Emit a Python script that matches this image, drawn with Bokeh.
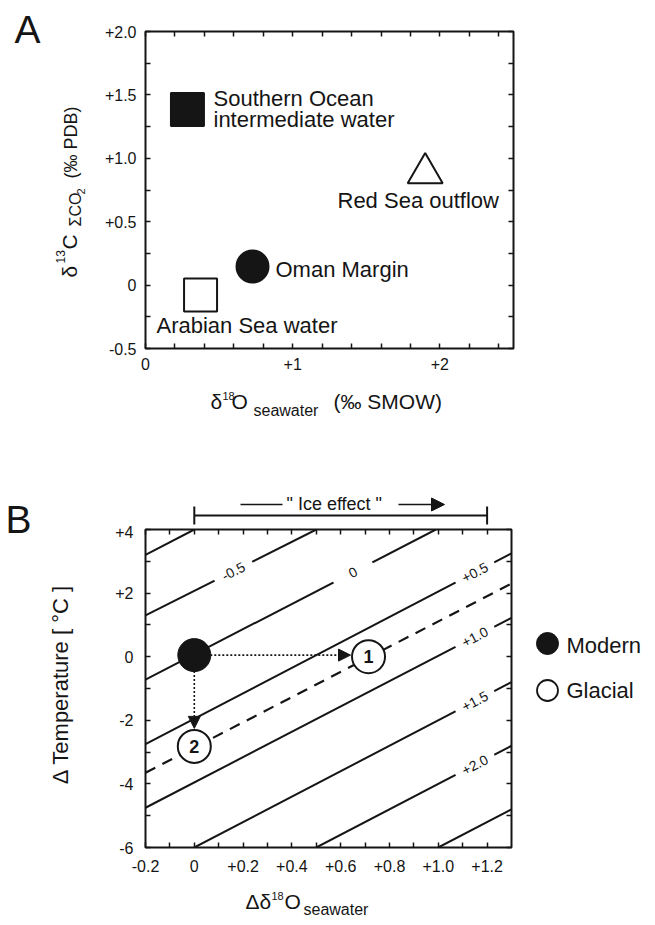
from bokeh.plotting import figure
from bokeh.models import (Label, Arrow, NormalHead, TeeHead, FixedTicker, LinearAxis, Range1d)
from bokeh.core.properties import value
from bokeh.layouts import column, row
from bokeh.embed import file_html
from bokeh.resources import INLINE

FONT = "Liberation Sans"
INK = "#151515"

# ---------------- Panel A data ----------------
a_water = ["Southern Ocean\nintermediate water", "Red Sea outflow", "Oman Margin", "Arabian Sea water"]
a_d18o_sw = [0.285, 1.90, 0.727, 0.374]
a_d13c = [1.385, 0.883, 0.147, -0.078]

a_xticks = [0, 1, 2]
a_xtick_labels = ["0", "+1", "+2"]
a_xticks_minor = [0.2, 0.4, 0.6, 0.8, 1.2, 1.4, 1.6, 1.8, 2.2, 2.4]
a_yticks = [-0.5, 0, 0.5, 1.0, 1.5, 2.0]
a_ytick_labels = ["-0.5", "0", "+0.5", "+1.0", "+1.5", "+2.0"]
a_yticks_minor = [-0.25, 0.25, 0.75, 1.25, 1.75]

# ---------------- Panel B data ----------------
b_modern_x = [0.0]
b_modern_dt = [0.05]
b_glacial_x = [0.714, 0.0]
b_glacial_dt = [0.0, -2.82]
b_glacial_id = ["1", "2"]
b_ice_effect = [0.0, 1.2]
b_legend = ["Modern", "Glacial"]

b_iso_value = ["-1.0", "-0.5", "0", "+0.5", "+1.0", "+1.5", "+2.0", "+2.5"]
b_iso_x0 = [-0.2, -0.2, -0.2, -0.2, -0.2, 0.0, 0.5, 1.0]
b_iso_y0 = [3.2, 1.3, -0.72, -2.75, -4.75, -6.0, -6.0, -6.0]
b_iso_x1 = [0.0, 0.5, 0.99, 1.3, 1.3, 1.3, 1.3, 1.3]
b_iso_y1 = [4.0, 4.0, 4.0, 3.25, 1.22, -0.8, -2.8, -4.8]
b_glacial_iso_x = [-0.2, 1.3]
b_glacial_iso_dt = [-3.65, 2.3]
b_labeled_iso = ["-0.5", "0", "+0.5", "+1.0", "+1.5", "+2.0"]

b_xticks = [-0.2, 0, 0.2, 0.4, 0.6, 0.8, 1.0, 1.2]
b_xtick_labels = ["-0.2", "0", "+0.2", "+0.4", "+0.6", "+0.8", "+1.0", "+1.2"]
b_xticks_minor = [-0.1, 0.1, 0.3, 0.5, 0.7, 0.9, 1.1]
b_yticks = [-6, -4, -2, 0, 2, 4]
b_ytick_labels = ["-6", "-4", "-2", "0", "+2", "+4"]
b_yticks_minor = [-5, -3, -1, 1, 3]

# ---------------- layout geometry (page pixels) ----------------
LEFT_W = 100
W = 650
A_LEFT, A_TOP, A_W, A_H = 145, 31, 368, 317
A_X0, A_X1, A_Y0, A_Y1 = 0.0, 2.5, -0.5, 2.0
A_FIG_H = 384
A_BOT_H = 60
B_ORIGIN = A_FIG_H + A_BOT_H          # 444
B_TOP_H = 81
B_LEFT, B_TOP, B_W, B_H = 145, 529, 366, 318
B_X0, B_X1, B_Y0, B_Y1 = -0.2, 1.3, -6.0, 4.0
B_FIG_W = 415
B_FIG_H = 355
B_BOT_H = 43
MID = 0.36   # distance (in em) from a text's baseline to its visual middle


def A_x(px):
    return A_X0 + (px - A_LEFT) / A_W * (A_X1 - A_X0)


def A_y(py):
    return A_Y1 - (py - A_TOP) / A_H * (A_Y1 - A_Y0)


def B_px(x):
    return B_LEFT + (x - B_X0) / (B_X1 - B_X0) * B_W


def add_text(p, x, y, text, size, angle=0, align="left", style="normal", **kw):
    p.add_layout(Label(x=x, y=y, text=text, text_font=FONT, text_font_size=f"{size}px",
                       text_color=INK, text_align=align, text_baseline="middle",
                       angle=angle, angle_units="deg", text_font_style=style, **kw))


def htext(s, px, py_base, text, size, align="left"):
    """horizontal text in a strip, given its baseline in page pixels"""
    add_text(s, px, -(py_base - MID * size), text, size, align=align)


def vtext(s, px_base, py, text, size, align="left"):
    """text rotated to read upwards, given its baseline x in page pixels"""
    add_text(s, px_base - MID * size, -py, text, size, angle=90, align=align)


def strip(x0, y0, w, h, bl=0, br=0, bt=0, bb=0):
    """A plain canvas; its frame (inside the given borders) maps page pixels (y negated)."""
    s = figure(width=w, height=h,
               x_range=Range1d(x0 + bl, x0 + w - br), y_range=Range1d(-(y0 + h - bb), -(y0 + bt)),
               x_axis_location=None, y_axis_location=None, output_backend="svg",
               toolbar_location=None, min_border_left=bl, min_border_right=br,
               min_border_top=bt, min_border_bottom=bb)
    s.outline_line_color = None
    s.xgrid.visible = False
    s.ygrid.visible = False
    return s


def frame_axes(p, xt, xl, xm, yt, yl, ym, standoff):
    p.xgrid.visible = False
    p.ygrid.visible = False
    p.outline_line_color = INK
    p.outline_line_width = 2
    p.xaxis[0].ticker = FixedTicker(ticks=xt, minor_ticks=xm)
    p.xaxis[0].major_label_overrides = {t: l for t, l in zip(xt, xl)}
    p.yaxis[0].ticker = FixedTicker(ticks=yt, minor_ticks=ym)
    p.yaxis[0].major_label_overrides = {t: l for t, l in zip(yt, yl)}
    for ax in (p.xaxis[0], p.yaxis[0]):
        ax.axis_line_color = None
        ax.major_tick_in = 5
        ax.major_tick_out = 0
        ax.minor_tick_in = 5
        ax.minor_tick_out = 0
        ax.major_tick_line_color = INK
        ax.minor_tick_line_color = INK
        ax.major_tick_line_width = 1.5
        ax.minor_tick_line_width = 1.5
        ax.major_label_text_font = FONT
        ax.major_label_text_font_size = "16px"
        ax.major_label_text_color = INK
        ax.major_label_standoff = standoff
    for ticks, place in ((xt + xm, "above"), (yt + ym, "right")):
        ax = LinearAxis(ticker=FixedTicker(ticks=[], minor_ticks=ticks))
        ax.axis_line_color = None
        ax.major_tick_line_color = None
        ax.major_label_standoff = 0
        ax.minor_tick_in = 5
        ax.minor_tick_out = 0
        ax.minor_tick_line_color = INK
        ax.minor_tick_line_width = 1.5
        p.add_layout(ax, place)


# ======================= Panel A =======================
A_BL, A_BR = A_LEFT - LEFT_W, W - A_LEFT - A_W
pA = figure(width=W - LEFT_W, height=A_FIG_H, x_range=Range1d(A_X0, A_X1),
            y_range=Range1d(A_Y0, A_Y1), output_backend="svg", toolbar_location=None,
            min_border_left=A_BL, min_border_right=A_BR,
            min_border_top=A_TOP, min_border_bottom=A_FIG_H - A_TOP - A_H)
frame_axes(pA, a_xticks, a_xtick_labels, a_xticks_minor,
           a_yticks, a_ytick_labels, a_yticks_minor, 9)

a_style = [
    dict(marker="square", size=33, fill_color=INK),
    dict(marker="triangle", size=35, fill_color="white"),
    dict(marker="circle", size=32, fill_color=INK),
    dict(marker="square", size=33, fill_color="white"),
]
a_label_px = [(213, 106), (337, 208), (275, 277), (156, 333)]   # left x, baseline y
for i, name in enumerate(a_water):
    pA.scatter(x=[a_d18o_sw[i]], y=[a_d13c[i]], line_color=INK, line_width=2, **a_style[i])
    lx, ly = a_label_px[i]
    for k, line in enumerate(name.split("\n")):
        add_text(pA, A_x(lx), A_y(ly + 21 * k - MID * 22), line, 22)

# left strip of panel A: panel letter and composed y title
sAL = strip(0, 0, LEFT_W, A_FIG_H + A_BOT_H)
htext(sAL, 14, 43, "A", 39)
vtext(sAL, 77, 277, "δ", 21)
vtext(sAL, 64, 263, "13", 12)
vtext(sAL, 77, 249, "C", 21)
vtext(sAL, 81, 226, "ΣCO", 16)
vtext(sAL, 84, 194, "2", 11)
vtext(sAL, 77, 178, "(‰ PDB)", 18)

# strip below panel A (its frame is aligned with panel A's frame): composed x title
sAB = strip(LEFT_W, A_FIG_H, W - LEFT_W, A_BOT_H, bl=A_BL, br=A_BR)
htext(sAB, 210, 409, "δ", 21)
htext(sAB, 222, 399, "18", 11)
htext(sAB, 231, 409, "O", 21)
htext(sAB, 253, 416, "seawater", 16)
htext(sAB, 333, 409, "(‰ SMOW)", 21)

# ======================= Panel B =======================
B_FIG_TOP = B_ORIGIN + B_TOP_H   # 525
B_BT = B_TOP - B_FIG_TOP
B_BB = B_FIG_H - B_BT - B_H
pB = figure(width=B_FIG_W, height=B_FIG_H, x_range=Range1d(B_X0, B_X1),
            y_range=Range1d(B_Y0, B_Y1), output_backend="svg", toolbar_location=None,
            min_border_left=B_LEFT - LEFT_W, min_border_right=LEFT_W + B_FIG_W - B_LEFT - B_W,
            min_border_top=B_BT, min_border_bottom=B_BB)
frame_axes(pB, b_xticks, b_xtick_labels, b_xticks_minor,
           b_yticks, b_ytick_labels, b_yticks_minor, 12)

pB.segment(x0=b_iso_x0, y0=b_iso_y0, x1=b_iso_x1, y1=b_iso_y1, line_color=INK, line_width=2)
pB.line(x=b_glacial_iso_x, y=b_glacial_iso_dt, line_color=INK, line_width=2.2, line_dash="11 8")

lab_xpos = [0.16, 0.65, 1.15, 1.15, 1.15, 1.15]
lab_pad = [9, 18, 8, 8, 8, 8]
for txt, lx, pad in zip(b_labeled_iso, lab_xpos, lab_pad):
    i = b_iso_value.index(txt)
    t = (lx - b_iso_x0[i]) / (b_iso_x1[i] - b_iso_x0[i])
    ly = b_iso_y0[i] + t * (b_iso_y1[i] - b_iso_y0[i])
    add_text(pB, lx, ly, txt, 14, angle=27.5, align="center",
             background_fill_color="white", padding=pad)

px_x = B_W / (B_X1 - B_X0)
px_y = B_H / (B_Y1 - B_Y0)
pB.add_layout(Arrow(x_start=b_modern_x[0], y_start=b_modern_dt[0],
                    x_end=b_glacial_x[0] - 18 / px_x, y_end=b_modern_dt[0],
                    line_color=INK, line_width=1.6, line_dash="2 2",
                    end=NormalHead(size=12, fill_color=INK, line_color=INK, line_width=1)))
pB.add_layout(Arrow(x_start=b_modern_x[0], y_start=b_modern_dt[0],
                    x_end=b_glacial_x[1], y_end=b_glacial_dt[1] + 18 / px_y,
                    line_color=INK, line_width=1.6, line_dash="2 2",
                    end=NormalHead(size=12, fill_color=INK, line_color=INK, line_width=1)))

pB.scatter(x=b_modern_x, y=b_modern_dt, marker="circle", size=33,
           fill_color=INK, line_color=INK, line_width=1)
pB.scatter(x=b_glacial_x, y=b_glacial_dt, marker="circle", size=33,
           fill_color="white", line_color=INK, line_width=2)
pB.text(x=b_glacial_x, y=b_glacial_dt, text=b_glacial_id, text_font=value(FONT),
        text_font_size="18px", text_font_style="bold", text_color=INK,
        text_align="center", text_baseline="middle")

# left strip of panel B: letter and y title
sBL = strip(0, B_ORIGIN, LEFT_W, B_TOP_H + B_FIG_H + B_BOT_H)
htext(sBL, 5, 533, "B", 39)
vtext(sBL, 68, 684, "Δ Temperature [ °C ]", 22, align="center")

# strip above panel B: "Ice effect" range bar (aligned with panel B's x scale)
sBT = strip(LEFT_W, B_ORIGIN, W - LEFT_W, B_TOP_H)
sBT.add_layout(Arrow(x_start=B_px(b_ice_effect[0]), y_start=-515,
                     x_end=B_px(b_ice_effect[1]), y_end=-515,
                     line_color=INK, line_width=2,
                     start=TeeHead(size=18, line_color=INK, line_width=2),
                     end=TeeHead(size=18, line_color=INK, line_width=2)))
sBT.add_layout(Arrow(x_start=240, y_start=-504, x_end=282, y_end=-504,
                     line_color=INK, line_width=1.6, end=None))
add_text(sBT, 286, -503, '" Ice effect "', 18)
sBT.add_layout(Arrow(x_start=398, y_start=-504, x_end=444, y_end=-504,
                     line_color=INK, line_width=1.6,
                     end=NormalHead(size=13, fill_color=INK, line_color=INK, line_width=1)))

# strip right of panel B (frame aligned with panel B's frame): legend
sBR = strip(LEFT_W + B_FIG_W, B_FIG_TOP, W - LEFT_W - B_FIG_W, B_FIG_H, bt=B_BT, bb=B_BB)
sBR.scatter(x=[547], y=[-643], marker="circle", size=22, fill_color=INK, line_color=INK)
sBR.scatter(x=[547], y=[-690], marker="circle", size=21, fill_color="white",
            line_color=INK, line_width=1.8)
add_text(sBR, 566, -645, b_legend[0], 22)
add_text(sBR, 566, -690, b_legend[1], 22)

# strip below panel B: composed x title
sBB = strip(LEFT_W, B_FIG_TOP + B_FIG_H, W - LEFT_W, B_BOT_H)
htext(sBB, 245, 909, "Δδ", 21)
htext(sBB, 271, 899, "18", 11)
htext(sBB, 284, 909, "O", 21)
htext(sBB, 303, 915, "seawater", 16)

page = column(
    row(sAL, column(pA, sAB)),
    row(sBL, column(sBT, row(pB, sBR), sBB)),
)
open("out.html", "w").write(file_html(page, INLINE))
